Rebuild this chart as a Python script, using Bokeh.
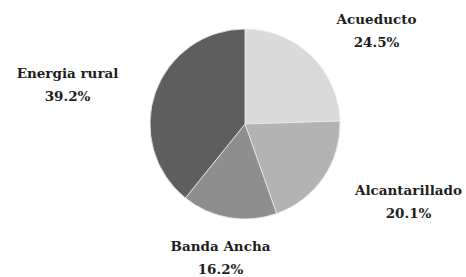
import math
from bokeh.plotting import figure
from bokeh.models import ColumnDataSource, Range1d
from bokeh.core.properties import value
from bokeh.embed import file_html
from bokeh.resources import INLINE

# Data
categories = ["Acueducto", "Alcantarillado", "Banda Ancha", "Energia rural"]
shares = [24.5, 20.1, 16.2, 39.2]
colors = ["#dadada", "#b3b3b3", "#8e8e8e", "#5e5e5e"]

# Layout (figure pixel coords, origin bottom-left)
W, H = 466, 277
cx, cy, r = 244.5, 153.5, 95
label_pos = [(376, 259), (408, 88), (220, 32), (67, 205)]
line_gap = 23

total = sum(shares)
start, end = [], []
a = math.pi / 2
for v in shares:
    da = 2 * math.pi * v / total
    start.append(a - da)
    end.append(a)
    a -= da

src = ColumnDataSource(dict(cat=categories, start=start, end=end, color=colors))

p = figure(width=W, height=H, output_backend="svg", toolbar_location=None,
           x_range=Range1d(0, W), y_range=Range1d(0, H), min_border=0)
p.axis.visible = False
p.grid.visible = False
p.outline_line_color = None
p.background_fill_color = "white"

p.wedge(x=cx, y=cy, radius=r, start_angle="start", end_angle="end",
        fill_color="color", line_color="#ececec", line_width=0.8, source=src)

names = categories
pcts = [f"{v:.1f}%" for v in shares]
lsrc = ColumnDataSource(dict(x=[q[0] for q in label_pos], y=[q[1] for q in label_pos],
                             y2=[q[1] - line_gap for q in label_pos], name=names, pct=pcts))
common = dict(text_font=value("DejaVu Serif"), text_font_style="bold",
              text_font_size="13.5px", text_color="#1e1e1e",
              text_align="center", text_baseline="middle", source=lsrc)
p.text(x="x", y="y", text="name", **common)
p.text(x="x", y="y2", text="pct", **common)

open("out.html", "w").write(file_html(p, INLINE))
